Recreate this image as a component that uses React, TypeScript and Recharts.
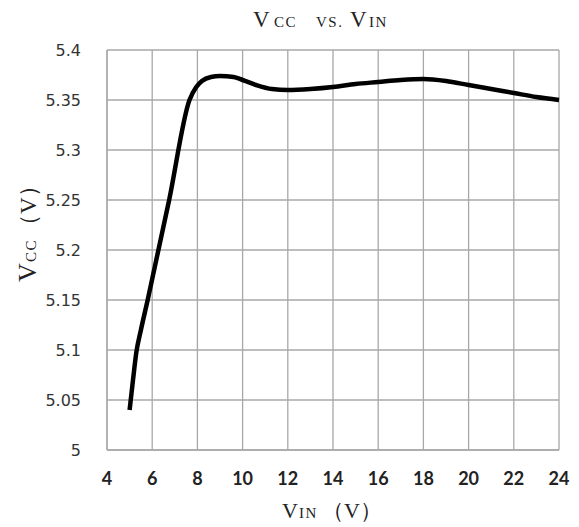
import React from 'react';
import { LineChart, Line, XAxis, YAxis, CartesianGrid, Label } from 'recharts';

const vinValues = [
  5.0, 5.15, 5.3, 5.5, 5.8, 6.75, 7.65, 7.95, 8.2, 8.6, 9.0, 9.6, 10.0,
  10.6, 11.3, 12.0, 13.0, 14.0, 15.0, 16.0, 17.0, 18.0, 19.0, 20.0, 21.0, 22.0, 23.0, 24.0,
];
const vccValues = [
  5.04, 5.07, 5.098, 5.12, 5.15, 5.25, 5.35, 5.363, 5.369, 5.373, 5.374, 5.373, 5.37,
  5.365, 5.361, 5.36, 5.361, 5.363, 5.366, 5.368, 5.37, 5.371, 5.369, 5.365, 5.361, 5.357, 5.353, 5.35,
];
const xTicks = [4, 6, 8, 10, 12, 14, 16, 18, 20, 22, 24];
const yTicks = [5, 5.05, 5.1, 5.15, 5.2, 5.25, 5.3, 5.35, 5.4];

const data = vinValues.map((vin, i) => ({ vin, vcc: vccValues[i] }));

const SERIF = '"Liberation Serif", "Times New Roman", serif';
const GRID = '#a8a8a8';
const INK = '#222';

function XLabel({ viewBox }: any) {
  const y = viewBox.y + 68;
  return (
    <text y={y} fontFamily={SERIF} fill={INK}>
      <tspan x={274} fontSize={22}>V</tspan>
      <tspan x={291} fontSize={15} letterSpacing={1.5}>IN</tspan>
      <tspan x={314} fontSize={22}>（V）</tspan>
    </text>
  );
}

function YLabel() {
  // rotated frame: u runs upward (u = -chartY), v = chartX (baseline)
  const v = 28;
  return (
    <text transform="rotate(-90)" y={v} fontFamily={SERIF} fill={INK}>
      <tspan x={-274} fontSize={26}>V</tspan>
      <tspan x={-254} fontSize={15} letterSpacing={1.5}>CC</tspan>
      <tspan x={-229} fontSize={23}>（V）</tspan>
    </text>
  );
}

export default function App() {
  return (
    <div style={{ position: 'relative', width: 571, height: 519 }}>
      <svg
        width={571}
        height={40}
        style={{ position: 'absolute', left: 0, top: 0, pointerEvents: 'none' }}
      >
        <text y={19} fontFamily={SERIF} fill={INK}>
          <tspan x={245} fontSize={23}>V</tspan>
          <tspan x={266} fontSize={15} letterSpacing={1.5}>CC</tspan>
          <tspan x={308} fontSize={15} letterSpacing={1.5}>VS.</tspan>
          <tspan x={342} fontSize={23}>V</tspan>
          <tspan x={361} fontSize={15} letterSpacing={1.5}>IN</tspan>
        </text>
      </svg>
      <LineChart
        width={571}
        height={519}
        data={data}
        margin={{ top: 42, right: 20, left: 0, bottom: 0 }}
      >
        <CartesianGrid stroke={GRID} strokeWidth={1.3} />
        <XAxis
          type="number"
          dataKey="vin"
          domain={[4, 24]}
          ticks={xTicks}
          interval={0}
          height={77}
          tickLine={false}
          tickMargin={16}
          axisLine={{ stroke: GRID, strokeWidth: 1.3 }}
          tick={{ fill: INK, fontSize: 18, fontWeight: 'bold', fontFamily: 'Lato, "DejaVu Sans", sans-serif' }}
        >
          <Label content={<XLabel />} />
        </XAxis>
        <YAxis
          type="number"
          domain={[5, 5.4]}
          ticks={yTicks}
          interval={0}
          width={99}
          tickLine={false}
          tickMargin={20}
          axisLine={{ stroke: GRID, strokeWidth: 1.3 }}
          tickFormatter={(val: number) => String(val)}
          tick={{ fill: '#333', fontSize: 16, fontFamily: '"DejaVu Sans", sans-serif' }}
        >
          <Label content={<YLabel />} />
        </YAxis>
        <Line
          type="monotone"
          dataKey="vcc"
          stroke="#000"
          strokeWidth={4.5}
          dot={false}
          isAnimationActive={false}
        />
      </LineChart>
    </div>
  );
}
